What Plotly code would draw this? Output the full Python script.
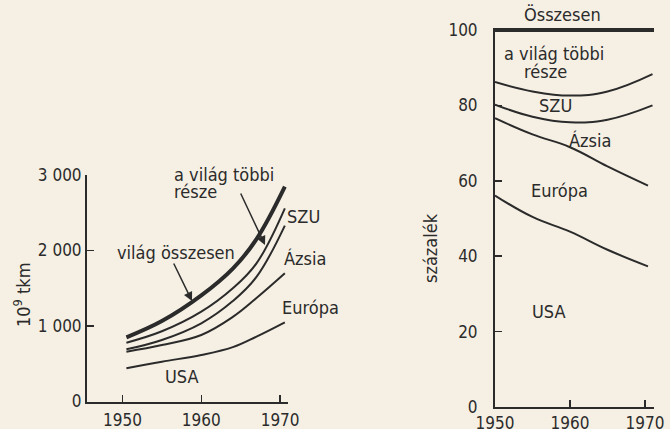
import plotly.graph_objects as go

W, H = 670, 429
INK = "#2b2b2b"
BG = "#f6f0e4"
FONT = "DejaVu Sans Condensed"

# ---- left chart data (10^9 tkm, cumulative curves) ----
years_left = [1950.5, 1955, 1960, 1964, 1967, 1970.6]
left_total = [850, 1065, 1405, 1760, 2150, 2845]   # világ összesen
left_szu = [779, 930, 1190, 1500, 1830, 2559]      # upper edge of SZU band
left_azsia = [691, 815, 1036, 1330, 1650, 2330]    # upper edge of Ázsia band
left_europa = [660, 748, 881, 1120, 1370, 1698]    # upper edge of Európa band
left_usa = [440, 527, 616, 720, 860, 1049]         # USA

# ---- right chart data (százalék, cumulative) ----
years_right = [1950, 1955, 1960, 1965, 1971]
years_right_low = [1950, 1955, 1960, 1965, 1970.4]
right_szu = [86.2, 83.7, 82.6, 83.7, 88.3]
right_azsia = [80.2, 77.0, 75.5, 76.2, 80.0]
right_europa = [76.6, 72.3, 68.9, 63.8, 58.7]
right_usa = [56.1, 50.4, 46.5, 41.7, 37.3]
years_total_right = [1950, 1971.2]
right_total = [100, 100]

left_yticks = [0, 1000, 2000, 3000]
left_yticktext = ["0", "1 000", "2 000", "3 000"]
right_yticks = [0, 20, 40, 60, 80, 100]
right_yticktext = ["0", "20", "40", "60", "80", "100"]
xticks = [1950, 1960, 1970]


def px(x):
    return x / W


def py(y):
    return 1 - y / H


fig = go.Figure()

for vals, w in [(left_usa, 2), (left_europa, 2), (left_azsia, 2), (left_szu, 2), (left_total, 4)]:
    fig.add_trace(go.Scatter(x=years_left, y=vals, mode="lines",
                             line=dict(color=INK, width=w, shape="spline", smoothing=1.1),
                             xaxis="x", yaxis="y", showlegend=False, hoverinfo="skip"))

for xs, vals in [(years_right_low, right_usa), (years_right_low, right_europa),
                 (years_right, right_azsia), (years_right, right_szu)]:
    fig.add_trace(go.Scatter(x=xs, y=vals, mode="lines",
                             line=dict(color=INK, width=2, shape="spline", smoothing=1.2),
                             xaxis="x2", yaxis="y2", showlegend=False, hoverinfo="skip"))
fig.add_trace(go.Scatter(x=years_total_right, y=right_total, mode="lines", line=dict(color=INK, width=4),
                         xaxis="x2", yaxis="y2", showlegend=False, hoverinfo="skip"))

axis_common = dict(showgrid=False, zeroline=False, showline=True, linecolor=INK, linewidth=2,
                   ticks="inside", ticklen=7, tickwidth=1.5, tickcolor=INK, automargin=False,
                   tickfont=dict(family=FONT, size=17, color=INK))

fig.update_layout(
    width=W, height=H, autosize=False,
    margin=dict(l=0, r=0, t=0, b=0),
    paper_bgcolor=BG, plot_bgcolor=BG,
    font=dict(family=FONT, size=17, color=INK),
    xaxis=dict(domain=[px(87), px(288)], range=[1945.5, 1971], tickvals=xticks, anchor="y",
               ticklabelstandoff=2, **axis_common),
    yaxis=dict(domain=[py(401.5), py(175)], range=[0, 3000], tickvals=left_yticks, ticktext=left_yticktext,
               anchor="x", **axis_common),
    xaxis2=dict(domain=[px(495), px(654)], range=[1950, 1971.2], tickvals=xticks, anchor="y2", **axis_common),
    yaxis2=dict(domain=[py(407), py(27.7)], range=[0, 100.6], tickvals=right_yticks, ticktext=right_yticktext,
                anchor="x2", ticklabelstandoff=12, **axis_common),
)

ann = []


def label(text, x, y, xanchor="center", angle=0, size=18):
    ann.append(dict(text=text, x=px(x), y=py(y), xref="paper", yref="paper", showarrow=False,
                    xanchor=xanchor, yanchor="middle", textangle=angle,
                    font=dict(family=FONT, size=size, color=INK)))


def arrow(x0, y0, x1, y1):
    ann.append(dict(text="", x=px(x1), y=py(y1), xref="paper", yref="paper", showarrow=True,
                    ax=x0 - x1, ay=y0 - y1, axref="pixel", ayref="pixel",
                    arrowhead=2, arrowsize=1.2, arrowwidth=1.5, arrowcolor=INK, standoff=0, startstandoff=0))


# left chart labels
label("a világ többi", 172, 174, "left")
label("része", 172, 191, "left")
label("világ összesen", 115, 252, "left")
label("SZU", 285, 216, "left")
label("Ázsia", 282, 258, "left")
label("Európa", 280, 307, "left")
label("USA", 163, 376, "left")
label("10<sup>9</sup> tkm", 22, 295, angle=-90)
arrow(240, 192, 265, 245)
arrow(173, 262, 192, 301)

# right chart labels
label("Összesen", 562, 14)
label("a világ többi", 502, 54, "left")
label("része", 522, 71, "left")
label("SZU", 537, 106, "left")
label("Ázsia", 567, 140, "left")
label("Európa", 529, 190, "left")
label("USA", 530, 311, "left")
label("százalék", 431, 248, angle=-90)

fig.update_layout(annotations=ann)
fig.write_html(
    "out.html",
    config={"displayModeBar": False, "staticPlot": True},
    post_script="document.body.style.margin='0';document.body.style.padding='0';"
                "document.body.style.overflow='hidden';document.body.style.background='" + BG + "';",
)
